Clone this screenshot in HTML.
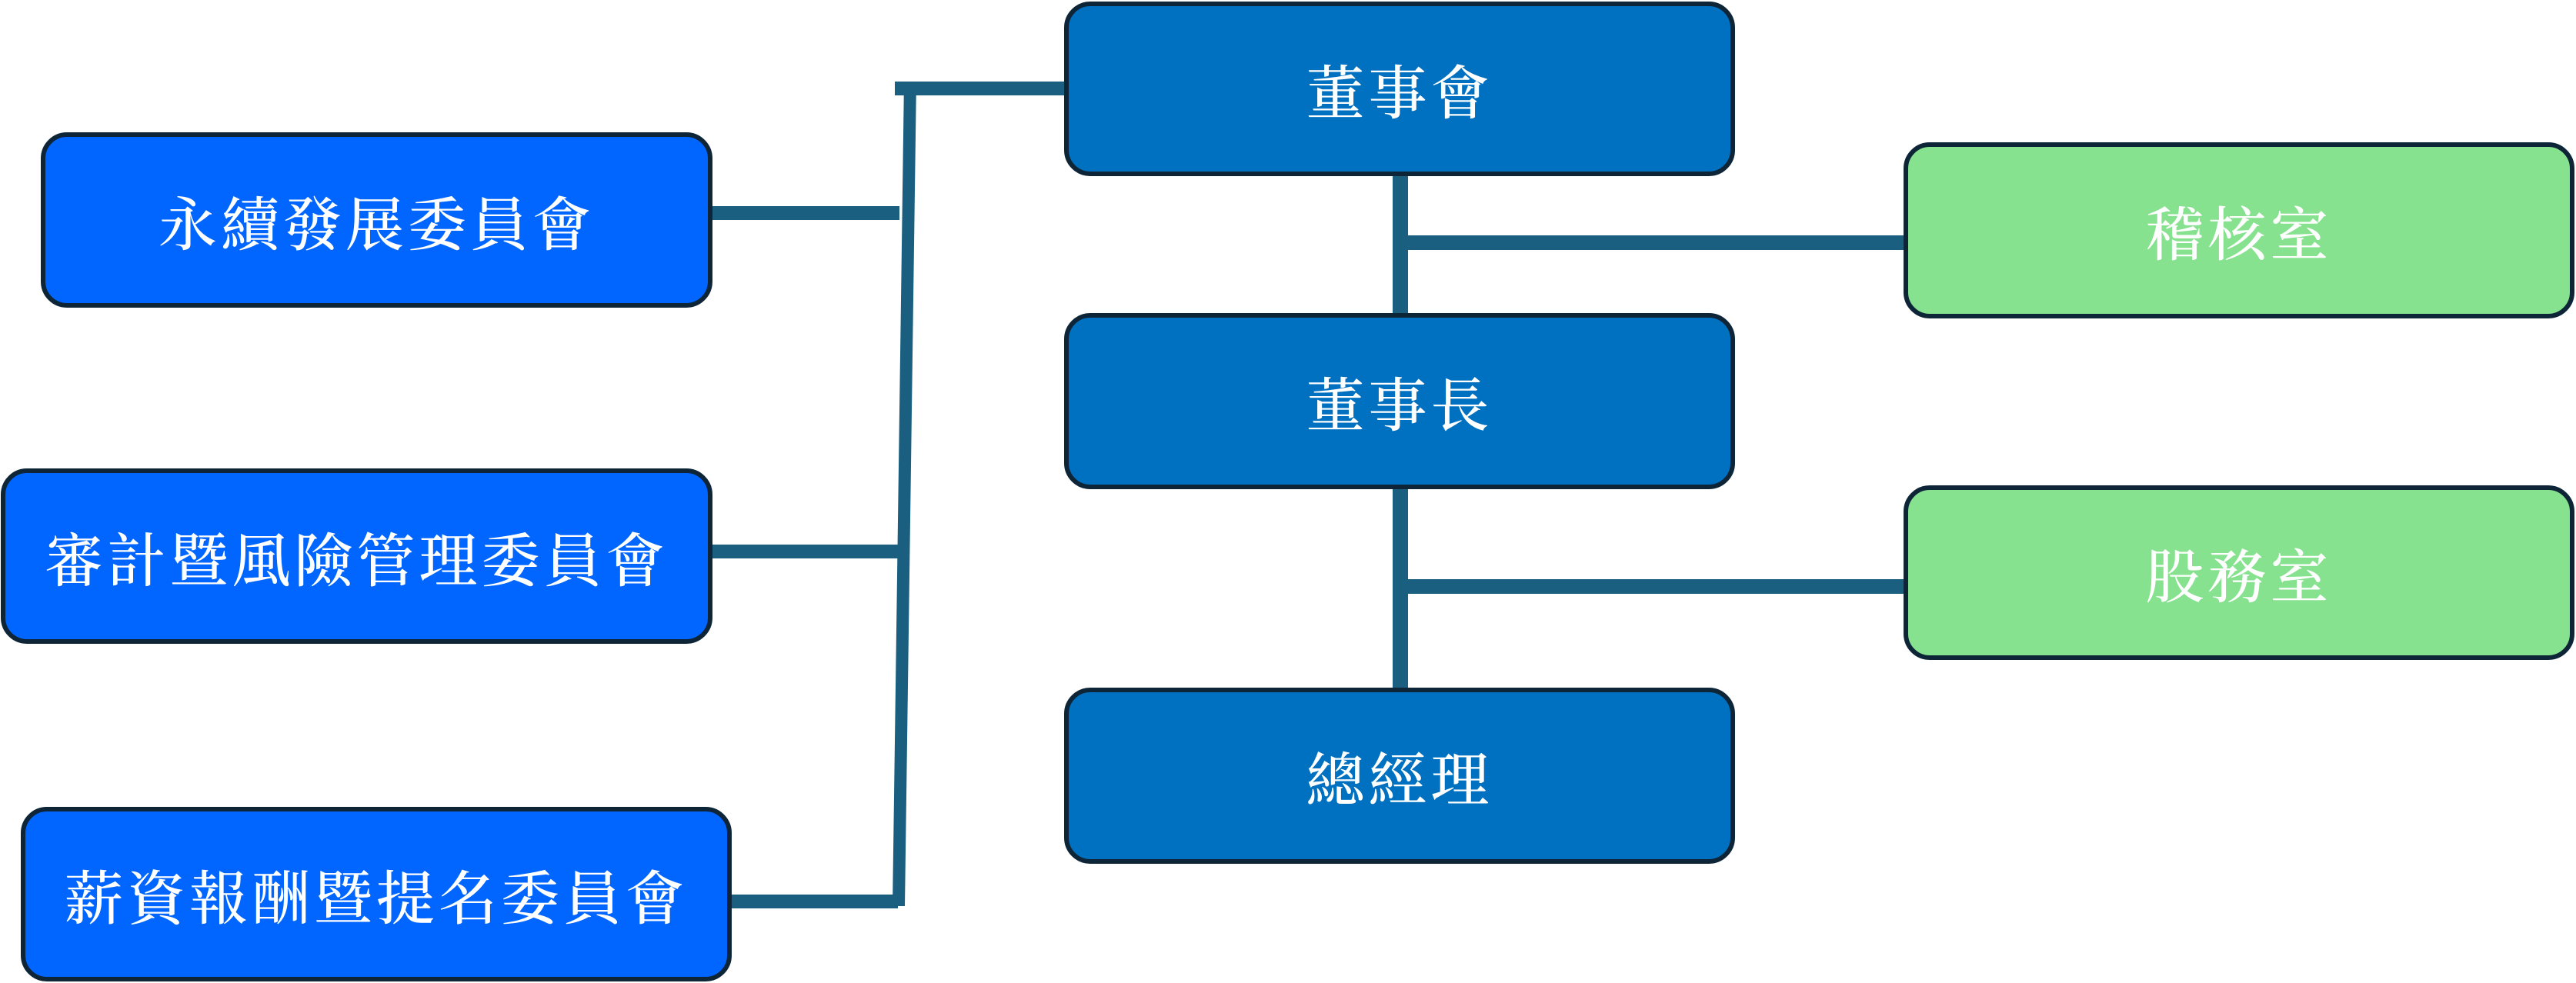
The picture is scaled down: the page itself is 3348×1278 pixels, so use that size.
<!DOCTYPE html>
<html><head><meta charset="utf-8"><style>
html,body{margin:0;padding:0;background:#fff;}
body{width:3348px;height:1278px;position:relative;overflow:hidden;}
.b{position:absolute;box-sizing:border-box;border:6px solid #0d2537;border-radius:34px;display:flex;align-items:center;justify-content:center;color:#fff;font-family:"Liberation Serif","Noto Serif CJK SC",serif;font-size:76px;letter-spacing:5px;font-weight:500;}
.l{background:#0066ff;}
.m{background:#0070c0;}
.g{background:#86e28f;}
.ln{position:absolute;background:#1a5f80;}
</style></head><body>
<div class="ln" style="left:1163px;top:106px;width:230px;height:18px"></div>
<div class="ln" style="left:1160px;top:106px;width:16px;height:1072px;transform:skewX(-0.8deg);transform-origin:bottom"></div>
<div class="ln" style="left:924px;top:268px;width:245px;height:18px"></div>
<div class="ln" style="left:924px;top:708px;width:243px;height:18px"></div>
<div class="ln" style="left:942px;top:1163px;width:225px;height:18px"></div>
<div class="ln" style="left:1810px;top:220px;width:20px;height:700px"></div>
<div class="ln" style="left:1820px;top:306px;width:660px;height:19px"></div>
<div class="ln" style="left:1820px;top:753px;width:660px;height:19px"></div>

<div class="b l" style="left:53px;top:172px;width:873px;height:228px">永續發展委員會</div>
<div class="b l" style="left:1px;top:609px;width:925px;height:228px">審計暨風險管理委員會</div>
<div class="b l" style="left:27px;top:1049px;width:924px;height:227px">薪資報酬暨提名委員會</div>
<div class="b m" style="left:1383px;top:2px;width:872px;height:227px">董事會</div>
<div class="b m" style="left:1383px;top:407px;width:872px;height:229px">董事長</div>
<div class="b m" style="left:1383px;top:894px;width:872px;height:229px">總經理</div>
<div class="b g" style="left:2474px;top:185px;width:872px;height:229px">稽核室</div>
<div class="b g" style="left:2474px;top:631px;width:872px;height:227px">股務室</div>
</body></html>
